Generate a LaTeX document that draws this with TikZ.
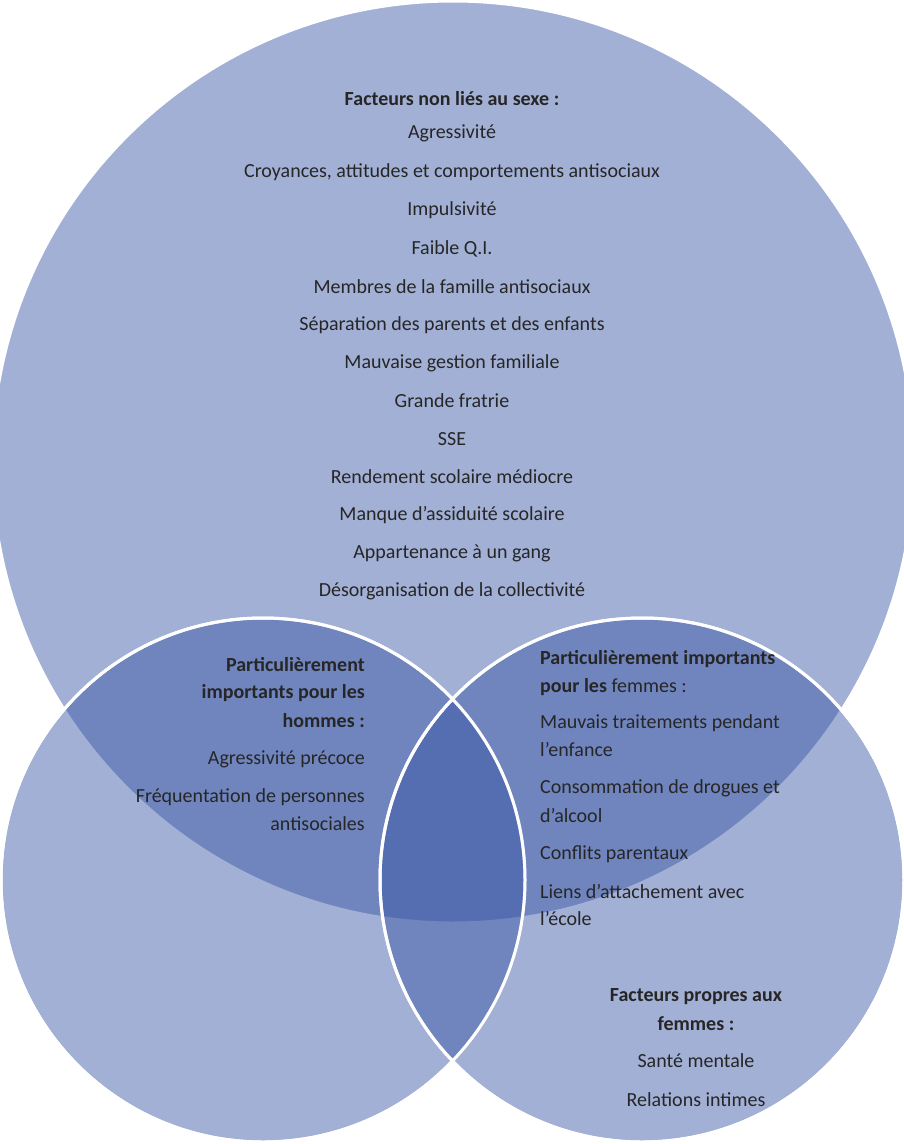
\documentclass[tikz,border=0pt]{standalone}
\usepackage{fontspec}
\setmainfont{Carlito}
\definecolor{vb}{RGB}{54,84,165}
\begin{document}
\begin{tikzpicture}[x=1pt,y=1pt,
  circ/.style={fill=vb,fill opacity=0.46,draw=white,line width=3pt},
  t/.style={inner sep=0pt,font=\fontsize{20}{24}\selectfont,text=black!85},
  r/.style={t,anchor=east},
  l/.style={t,anchor=west}]
\useasboundingbox (0,0) rectangle (904,-1144);
\fill[white] (0,0) rectangle (904,-1144);
\path[circ] (453,-462) circle (461);
\path[circ] (263,-880) circle (262);
\path[circ] (642,-880) circle (262);
\draw[white,line width=3pt] (263,-880) circle (262) (642,-880) circle (262);
\foreach \s/\y [count=\i] in {{\bfseries Facteurs non liés au sexe :}/99, Agressivité/133,
 {Croyances, attitudes et comportements antisociaux}/172, Impulsivité/210, Faible Q.I./249,
 Membres de la famille antisociaux/287, Séparation des parents et des enfants/325,
 Mauvaise gestion familiale/363, Grande fratrie/401, SSE/439, Rendement scolaire médiocre/477,
 Manque d’assiduité scolaire/515, Appartenance à un gang/553, Désorganisation de la collectivité/591}
 \node[t] (c\i) at (452,-\y) {\s};
\foreach \s/\y [count=\i] in {{\bfseries Particulièrement}/665, {\bfseries importants pour les}/693,
 {\bfseries hommes :}/721, Agressivité précoce/759, Fréquentation de personnes/797, antisociales/824}
 \node[r] (h\i) at (365,-\y) {\s};
\foreach \s/\y [count=\i] in {{\bfseries Particulièrement importants}/659, {\bfseries pour les} femmes :/687,
 Mauvais traitements pendant/723, l’enfance/750, Consommation de drogues et/788, d’alcool/816,
 Conflits parentaux/854, Liens d’attachement avec/892, l’école/919}
 \node[l] (f\i) at (540,-\y) {\s};
\foreach \s/\y [count=\i] in {{\bfseries Facteurs propres aux}/997, {\bfseries femmes :}/1024,
 Santé mentale/1061, Relations intimes/1100}
 \node[t] (p\i) at (696,-\y) {\s};
\end{tikzpicture}
\end{document}
